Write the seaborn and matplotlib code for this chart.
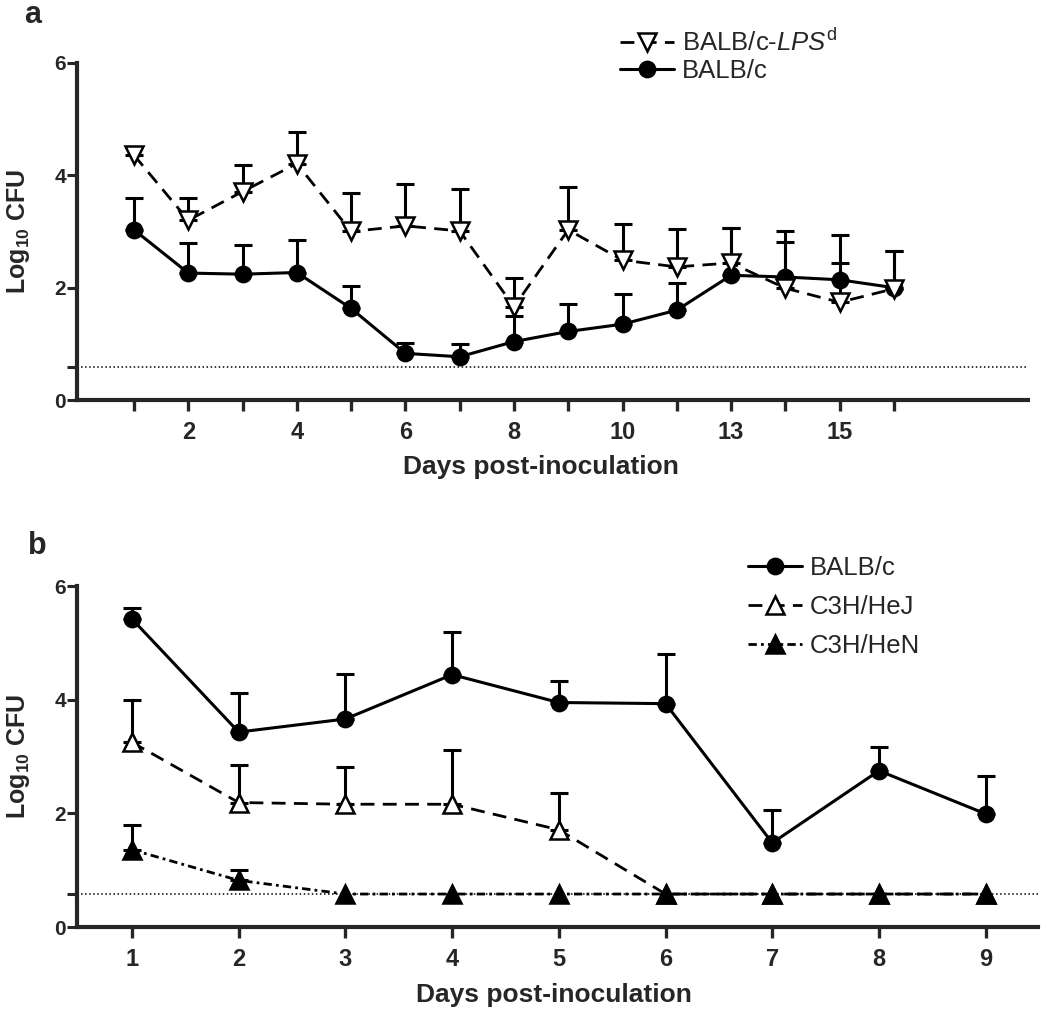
import numpy as np
import pandas as pd
import matplotlib
matplotlib.use('Agg')
import matplotlib.pyplot as plt
import seaborn as sns

# ---- panel a: BALB/c vs BALB/c-LPSd, 15 sampling points ----
pos_a = np.arange(1, 16)
xlabels_a = ['', '2', '', '4', '', '6', '', '8', '', '10', '', '13', '', '15', '']
lpsd_mean = [4.36, 3.20, 3.71, 4.21, 3.00, 3.10, 3.01, 1.66, 3.03, 2.49, 2.37, 2.44, 1.99, 1.74, 1.98]
lpsd_top = [4.51, 3.59, 4.18, 4.77, 3.68, 3.84, 3.76, 2.18, 3.80, 3.13, 3.04, 3.06, 3.01, 2.44, 2.65]
balb_a_mean = [3.03, 2.26, 2.24, 2.27, 1.63, 0.83, 0.77, 1.04, 1.22, 1.35, 1.60, 2.22, 2.19, 2.14, 2.00]
balb_a_top = [3.59, 2.79, 2.76, 2.85, 2.03, 1.02, 1.00, 1.50, 1.71, 1.88, 2.08, 3.06, 2.81, 2.94, 2.65]

# ---- panel b: BALB/c, C3H/HeJ, C3H/HeN ----
days_b = np.arange(1, 10)
balb_b_mean = [5.42, 3.43, 3.66, 4.44, 3.95, 3.93, 1.48, 2.75, 1.99]
balb_b_top = [5.61, 4.11, 4.45, 5.19, 4.32, 4.81, 2.06, 3.16, 2.66]
hej_mean = [3.25, 2.19, 2.16, 2.16, 1.71, 0.58, 0.58, 0.58, 0.58]
hej_top = [4.00, 2.85, 2.82, 3.12, 2.36, np.nan, np.nan, np.nan, np.nan]
hen_mean = [1.36, 0.82, 0.58, 0.58, 0.58, 0.58, 0.58, 0.58, 0.58]
hen_top = [1.79, 1.00, np.nan, np.nan, np.nan, np.nan, np.nan, np.nan, np.nan]

lod = 0.58  # detection limit

sns.set_style('ticks')
plt.rcParams['font.family'] = ['Liberation Sans', 'DejaVu Sans']
plt.rcParams['mathtext.fontset'] = 'custom'
plt.rcParams['mathtext.rm'] = 'Liberation Sans'
plt.rcParams['mathtext.it'] = 'Liberation Sans:italic'
plt.rcParams['mathtext.bf'] = 'Liberation Sans:bold'


def upper_err(ax, x, mean, top):
    x = np.asarray(x, float)
    mean = np.asarray(mean, float)
    top = np.asarray(top, float)
    ok = np.isfinite(top)
    err = top[ok] - mean[ok]
    ax.errorbar(x[ok], mean[ok], yerr=[np.zeros_like(err), err], fmt='none',
                ecolor='black', elinewidth=2.2, capsize=6.8, capthick=2.2, zorder=2)


def series(ax, x, y, marker, face, ls, ms, label, lw=2.2):
    df = pd.DataFrame({'x': x, 'y': y})
    sns.lineplot(data=df, x='x', y='y', ax=ax, color='black', marker=marker,
                 markersize=ms, markerfacecolor=face, markeredgecolor='black',
                 markeredgewidth=1.8, linewidth=lw, linestyle=ls, errorbar=None,
                 label=label, zorder=3)


def style_axis(ax):
    sns.despine(ax=ax)
    for s in ['left', 'bottom']:
        ax.spines[s].set_linewidth(3)
    ax.set_ylim(0, 6)
    ax.set_yticks([0, 2, 4, 6])
    ax.set_yticks([lod], minor=True)
    ax.tick_params(axis='y', which='both', direction='out', length=7, width=2.2,
                   labelsize=15, pad=1)
    ax.tick_params(axis='x', direction='out', length=8, width=2.4, labelsize=17, pad=7)
    for t in ax.get_xticklabels() + ax.get_yticklabels():
        t.set_fontweight('bold')
    ax.axhline(lod, color='black', linestyle=':', linewidth=1.1, zorder=1)
    ax.set_ylabel(r'Log$_{\mathbf{10}}$ CFU', fontsize=18, fontweight='bold', va='center')
    ax.set_xlabel('Days post-inoculation', fontsize=19, fontweight='bold', va='center')


fig = plt.figure(figsize=(10.5, 10.21), dpi=100)

# panel a
ax1 = fig.add_axes([77 / 1050, 1 - 400 / 1021, 951 / 1050, 337 / 1021])
upper_err(ax1, pos_a, lpsd_mean, lpsd_top)
upper_err(ax1, pos_a, balb_a_mean, balb_a_top)
series(ax1, pos_a, balb_a_mean, 'o', 'black', '-', 11, 'BALB/c')
series(ax1, pos_a, lpsd_mean, 'v', 'white', (0, (5, 3)), 12.5, 'BALB/c-$\\mathit{LPS}^{\\mathrm{d}}$', lw=2.0)
ax1.set_xlim(-0.05, 17.47)
ax1.set_xticks(pos_a)
ax1.set_xticklabels(xlabels_a)
style_axis(ax1)
ax1.yaxis.set_label_coords(-0.062, 0.5)
ax1.xaxis.set_label_coords(0.488, -0.199)
h, l = ax1.get_legend_handles_labels()
ax1.legend([h[1], h[0]], [l[1], l[0]], loc='center left',
           bbox_to_anchor=(620 / 1050, 1 - 56 / 1021), bbox_transform=fig.transFigure,
           frameon=False, fontsize=18.5, handlelength=2.1, handletextpad=0.3,
           labelspacing=0.1, borderpad=0, borderaxespad=0, numpoints=1)

# panel b
ax2 = fig.add_axes([77 / 1050, 1 - 927 / 1021, 961 / 1050, 341 / 1021])
upper_err(ax2, days_b, balb_b_mean, balb_b_top)
upper_err(ax2, days_b, hej_mean, hej_top)
upper_err(ax2, days_b, hen_mean, hen_top)
series(ax2, days_b, balb_b_mean, 'o', 'black', '-', 11, 'BALB/c')
series(ax2, days_b, hej_mean, '^', 'white', (0, (5, 3)), 12.5, 'C3H/HeJ', lw=2.0)
series(ax2, days_b, hen_mean, '^', 'black', (0, (3, 1.5, 1, 1.5)), 12.5, 'C3H/HeN', lw=2.0)
ax2.set_xlim(0.485, 9.49)
ax2.set_xticks(days_b)
style_axis(ax2)
ax2.yaxis.set_label_coords(-0.061, 0.5)
ax2.xaxis.set_label_coords(0.496, -0.199)
ax2.legend(loc='center left', bbox_to_anchor=(748 / 1050, 1 - 607 / 1021),
           bbox_transform=fig.transFigure, frameon=False, fontsize=18.5,
           handlelength=2.1, handletextpad=0.3, labelspacing=0.6, borderpad=0,
           borderaxespad=0, numpoints=1)

fig.text(33 / 1050, 1 - 15 / 1021, 'a', fontsize=22, fontweight='bold', ha='center', va='center')
fig.text(37 / 1050, 1 - 546 / 1021, 'b', fontsize=22, fontweight='bold', ha='center', va='center')

fig.savefig('out.png', dpi=100, facecolor='white')
